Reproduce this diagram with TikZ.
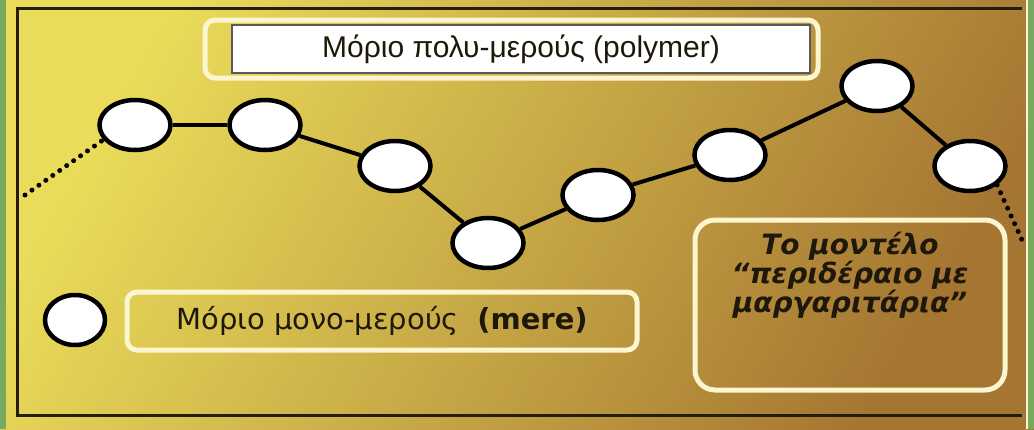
\documentclass[tikz,border=0pt]{standalone}
\usepackage{fontspec}
\setmainfont{Liberation Sans}
\newfontfamily\modelfont{DejaVu Sans}
\usetikzlibrary{shapes.geometric,positioning}
\definecolor{goldtop}{RGB}{234,220,90}
\definecolor{goldmid}{RGB}{208,180,70}
\definecolor{goldbot}{RGB}{165,118,50}
\definecolor{slidegreen}{RGB}{122,168,92}
\definecolor{cream}{RGB}{252,246,208}
\definecolor{framebrown}{RGB}{38,28,12}
\definecolor{inktext}{RGB}{30,24,10}

\begin{document}
\begin{tikzpicture}[x=1pt,y=-1pt]
  \tikzstyle{bead} = [draw, ellipse, fill=white, line width=4.5pt,
      minimum width=71pt, minimum height=50pt, inner sep=0pt]
  \tikzstyle{bond} = [line width=4pt]
  \tikzstyle{loose} = [line width=5pt, line cap=round, dash pattern=on 0pt off 8.5pt]
  \tikzstyle{tag} = [draw=cream, line width=5pt, rounded corners=10pt, inner sep=0pt,
      text=inktext]

  % slide background
  \useasboundingbox (0,0) rectangle (1034,429);
  \shade[top color=goldtop, middle color=goldmid, bottom color=goldbot, shading angle=60]
      (0,0) rectangle (1034,429);
  \fill[slidegreen] (0,0) rectangle (6,429);
  \fill[slidegreen] (1028,0) rectangle (1034,429);
  \draw[cream, line width=1.5pt] (1027,0) -- (1027,429);

  % frame, open on the right
  \coordinate (ftr) at (1022,8);
  \coordinate (ftl) at (17,8);
  \coordinate (fbl) at (17,415);
  \coordinate (fbr) at (1022,415);
  \draw[framebrown, line width=3pt] (ftr) -- (ftl) -- (fbl) -- (fbr);

  % polymer label
  \node [tag, minimum width=613pt, minimum height=58pt] (polyframe) at (511.5,49) {};
  \node [draw=black!65, fill=white, line width=1.5pt, inner sep=0pt,
      minimum width=578pt, minimum height=48pt, text=inktext,
      font=\fontsize{30}{32}\selectfont] (polybox) at (521,49) {Μόριο πολυ-μερούς (polymer)};

  % the chain of mers
  \node [bead] (m1) at (135,125) {};
  \node [bead] (m2) at (265,125) {};
  \node [bead] (m3) at (395,166) {};
  \node [bead] (m4) at (488,243) {};
  \node [bead] (m5) at (598,195) {};
  \node [bead] (m6) at (730,155) {};
  \node [bead] (m7) at (877,86) {};
  \node [bead] (m8) at (970,166) {};
  \foreach \a/\b in {m1/m2, m2/m3, m3/m4, m4/m5, m5/m6, m6/m7, m7/m8}
      \draw [bond] (\a) -- (\b);

  \coordinate (lend) at (25,195);
  \coordinate (rend) at (1022,240);
  \draw [loose] (lend) -- (m1.205);
  \draw [loose] (m8.-35) -- (rend);

  % legend
  \node [bead, minimum width=60pt] (mere) at (75,320) {};
  \node [tag, minimum width=510pt, minimum height=58pt,
      font=\modelfont\fontsize{29}{32}\selectfont] (merebox) at (382,321)
      {Μόριο μονο-μερούς\ \ \textbf{(mere)}};

  % model name
  \node [tag, rounded corners=20pt, minimum width=310pt, minimum height=170pt] (modelbox) at (850,305) {};
  \node [align=center, text=inktext, font=\modelfont\bfseries\itshape\fontsize{28}{28}\selectfont]
      (modeltext) at (850,275) {Το μοντέλο\\“περιδέραιο με\\μαργαριτάρια”};
\end{tikzpicture}
\end{document}
